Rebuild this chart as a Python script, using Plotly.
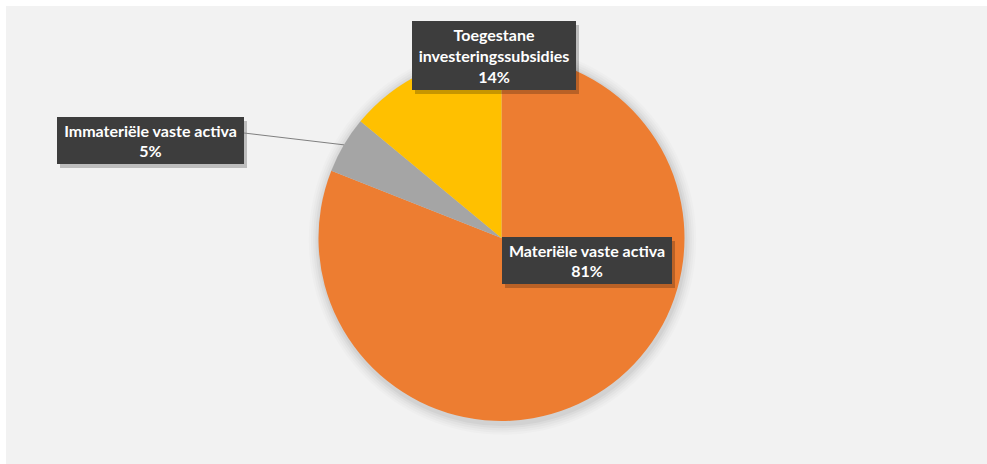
import math
import plotly.graph_objects as go

# ---- data ----
categories = ["Materiële vaste activa", "Immateriële vaste activa", "Toegestane investeringssubsidies"]
values = [81, 5, 14]
label_lines = [["Materiële vaste activa", "81%"],
               ["Immateriële vaste activa", "5%"],
               ["Toegestane", "investeringssubsidies", "14%"]]
colors = ["#ED7D31", "#A5A5A5", "#FFC000"]

W, H = 987, 464

def px(x):
    return x / W

def py(y):
    return 1 - y / H

# pie geometry (pixels)
cx, cy, r = 501.5, 238.0, 183.0
dom_x = [px(cx - r), px(cx + r)]
dom_y = [py(cy + r), py(cy - r)]

fig = go.Figure()
fig.add_trace(go.Pie(
    labels=categories, values=values, sort=False, direction="clockwise", rotation=0,
    marker=dict(colors=colors, line=dict(width=0)),
    textinfo="none", hoverinfo="label+percent", showlegend=False,
    domain=dict(x=dom_x, y=dom_y),
))

shapes = []
# background panel
shapes.append(dict(type="rect", xref="paper", yref="paper", x0=px(6), x1=1.01, y0=-0.02, y1=py(6),
                   fillcolor="#F2F2F2", line=dict(width=0), layer="below"))
# soft shadow around pie
for i, a in enumerate([0.035, 0.03, 0.025, 0.02, 0.015]):
    g = 2 + 2.2 * i
    shapes.append(dict(type="circle", xref="paper", yref="paper",
                       x0=px(cx - r - g + 1), x1=px(cx + r + g + 1),
                       y0=py(cy + r + g + 3), y1=py(cy - r - g + 1),
                       fillcolor=f"rgba(0,0,0,{a})", line=dict(width=0), layer="below"))

# label boxes (center x, center y, width, height) in pixels
boxes = [(587, 260.5, 170, 47), (150.5, 140.5, 187, 47), (494, 55.5, 164, 69)]

annotations = []
for (bx, by, bw, bh), lines in zip(boxes, label_lines):
    shapes.append(dict(type="rect", xref="paper", yref="paper",
                       x0=px(bx - bw / 2 + 3), x1=px(bx + bw / 2 + 3),
                       y0=py(by + bh / 2 + 4), y1=py(by - bh / 2 + 4),
                       fillcolor="rgba(0,0,0,0.22)", line=dict(width=0), layer="above"))
    annotations.append(dict(
        xref="paper", yref="paper", x=px(bx), y=py(by), xanchor="center", yanchor="middle",
        text="<br>".join(lines), showarrow=False, align="center", valign="middle",
        width=bw, height=bh, borderpad=0, borderwidth=0, bgcolor="#3D3D3D",
        font=dict(family="Lato", size=16, color="white", weight="bold"),
    ))

# leader line for the small slice (Immateriële)
frac_start = values[0] / sum(values)
frac_mid = frac_start + values[1] / sum(values) / 2
ang = 2 * math.pi * frac_mid
ex = cx + r * math.sin(ang)
ey = cy - r * math.cos(ang)
bx, by, bw, bh = boxes[1]
shapes.append(dict(type="line", xref="paper", yref="paper",
                   x0=px(bx + bw / 2), y0=py(133), x1=px(ex), y1=py(ey),
                   line=dict(color="#7F7F7F", width=1), layer="above"))

fig.update_layout(
    width=W, height=H, margin=dict(l=0, r=0, t=0, b=0),
    paper_bgcolor="white", plot_bgcolor="white",
    shapes=shapes, annotations=annotations,
)
fig.write_html("out.html", config={"displayModeBar": False},
               post_script="document.body.style.margin='0px';document.body.style.overflow='hidden';document.body.style.background='#F2F2F2';")
